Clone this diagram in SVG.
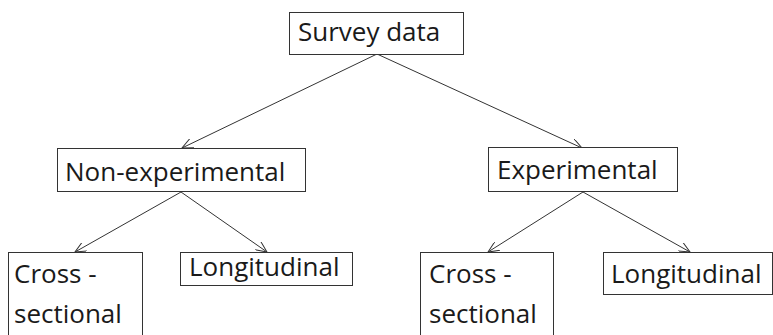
<svg xmlns="http://www.w3.org/2000/svg" width="773" height="335" viewBox="0 0 773 335">
<defs>
<style>
.box{fill:#fff;stroke:#333;stroke-width:1}
.t{font-family:"Open Sans","Noto Sans",sans-serif;font-size:26px;fill:#1a1a1a}
.c{stroke:#333;stroke-width:1;fill:none;marker-end:url(#ah)}
</style>
<marker id="ah" viewBox="0 0 12 10" refX="11" refY="5" markerWidth="12" markerHeight="10" markerUnits="userSpaceOnUse" orient="auto">
<path d="M0,0 L11,5 L0,10" fill="none" stroke="#333" stroke-width="1"/>
</marker>
</defs>
<rect width="773" height="335" fill="#fff"/>
<g id="connectors">
<line class="c" x1="377" y1="54" x2="182" y2="148"/>
<line class="c" x1="377" y1="54" x2="582" y2="148"/>
<line class="c" x1="181" y1="192" x2="75" y2="252"/>
<line class="c" x1="181" y1="192" x2="267" y2="252"/>
<line class="c" x1="583" y1="192" x2="488" y2="252"/>
<line class="c" x1="583" y1="192" x2="690" y2="252"/>
</g>
<g id="survey">
<rect class="box" x="289.5" y="12.5" width="174" height="42"/>
<text class="t" x="298" y="41">Survey data</text>
</g>
<g id="nonexp">
<rect class="box" x="57.5" y="148.5" width="248" height="43"/>
<text class="t" x="65" y="181">Non-experimental</text>
</g>
<g id="exp">
<rect class="box" x="488.5" y="147.5" width="189" height="44"/>
<text class="t" x="497" y="179">Experimental</text>
</g>
<g id="cross1">
<rect class="box" x="8.5" y="252.5" width="134" height="90"/>
<text class="t" x="14" y="283">Cross -</text>
<text class="t" x="14" y="323">sectional</text>
</g>
<g id="long1">
<rect class="box" x="180.5" y="252.5" width="172" height="33"/>
<text class="t" x="189" y="276">Longitudinal</text>
</g>
<g id="cross2">
<rect class="box" x="420.5" y="252.5" width="133" height="90"/>
<text class="t" x="429" y="283">Cross -</text>
<text class="t" x="429" y="323">sectional</text>
</g>
<g id="long2">
<rect class="box" x="603.5" y="252.5" width="169" height="42"/>
<text class="t" x="611" y="283">Longitudinal</text>
</g>
</svg>
